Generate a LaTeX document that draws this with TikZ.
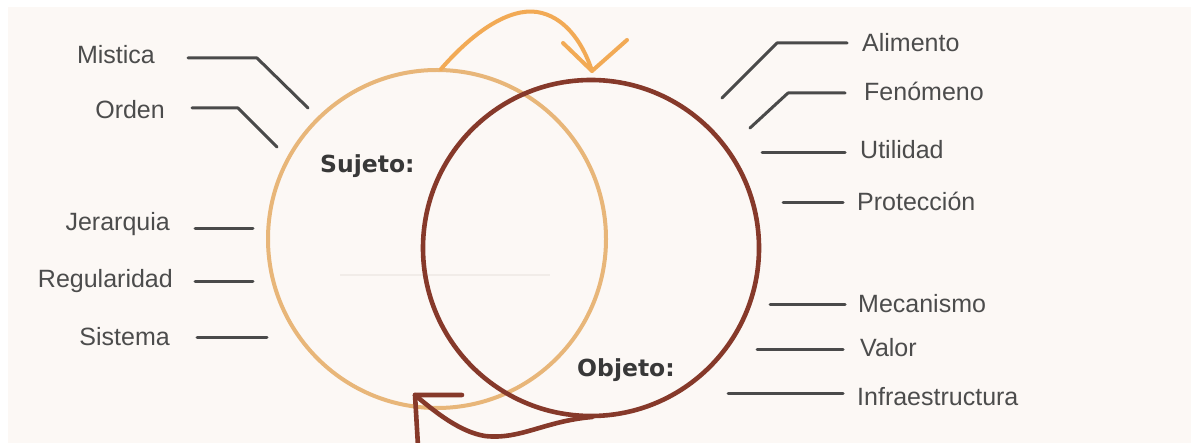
\documentclass[tikz,border=0pt]{standalone}
\usepackage{fontspec}
\setmainfont{Liberation Sans}
\newfontfamily\boldlab{DejaVu Sans}
\definecolor{bgc}{HTML}{FCF8F5}
\definecolor{orc}{HTML}{E8B679}
\definecolor{ora}{HTML}{F2AA55}
\definecolor{brc}{HTML}{86392A}
\definecolor{leadc}{HTML}{4A4A4A}
\definecolor{txtc}{HTML}{4C4C4C}
\definecolor{faint}{HTML}{F1ECE8}
\begin{document}
\begin{tikzpicture}[x=1pt,y=-1pt,
  lab/.style={inner sep=0pt,text=txtc,font=\fontsize{25}{29}\selectfont},
  blab/.style={inner sep=0pt,text=black!78,font=\boldlab\bfseries\fontsize{23.5}{27}\selectfont},
  lead/.style={draw=leadc,line width=3pt,line cap=round,line join=round},
  ringo/.style={draw=orc,line width=4pt},
  ringb/.style={draw=brc,line width=4.6pt},
  arro/.style={draw=ora,line width=4pt,line cap=round,line join=round},
  arrb/.style={draw=brc,line width=4.6pt,line cap=round,line join=round}]
\useasboundingbox (0,0) rectangle (1191,443);
\fill[white] (0,0) rectangle (1191,443);
\fill[bgc] (8,7) rectangle (1191,443);
\draw[faint,line width=2pt] (340,275) -- (550,275);

% circles
\node[circle,ringo,minimum size=338pt,inner sep=0pt] (suj) at (437,239) {};
\node[circle,ringb,minimum size=336pt,inner sep=0pt] (obj) at (591,248) {};

% orange arrow
\coordinate (oa0) at (441,69);
\coordinate (oat) at (592,71);
\coordinate (oal) at (563,43);
\coordinate (oar) at (627,40);
\draw[arro] (oa0) .. controls (475,30) and (510,8) .. (537,12)
  .. controls (563,16) and (582,40) .. (oat);
\draw[arro] (oal) -- (oat) -- (oar);

% brown tail arrow
\coordinate (ba0) at (592,417);
\coordinate (bat) at (415,395);
\coordinate (bah) at (462,395);
\coordinate (bav) at (418,446);
\draw[arrb] (ba0) .. controls (545,421) and (520,440) .. (485,436)
  .. controls (460,432) and (435,412) .. (bat);
\draw[arrb] (bah) -- (bat) -- (bav);

% bold labels
\node[blab,anchor=base west] (sujl) at (320,173) {Sujeto:};
\node[blab,anchor=base west] (objl) at (577,377) {Objeto:};

% left labels
\node[lab,anchor=base east] (mis) at (155,64) {Mistica};
\node[lab,anchor=base east] (ord) at (165,119) {Orden};
\node[lab,anchor=base east] (jer) at (170,231) {Jerarquia};
\node[lab,anchor=base east] (reg) at (173,288) {Regularidad};
\node[lab,anchor=base east] (sis) at (170,345) {Sistema};

\coordinate (mis1) at (188,58); \coordinate (mis2) at (257,58); \coordinate (mis3) at (308,108);
\coordinate (ord1) at (192,108); \coordinate (ord2) at (238,108); \coordinate (ord3) at (277,147);
\coordinate (jer1) at (195,229); \coordinate (jer2) at (253,229);
\coordinate (reg1) at (195,282); \coordinate (reg2) at (253,282);
\coordinate (sis1) at (197,338); \coordinate (sis2) at (267,338);
\draw[lead] (mis1) -- (mis2) -- (mis3);
\draw[lead] (ord1) -- (ord2) -- (ord3);
\draw[lead] (jer1) -- (jer2);
\draw[lead] (reg1) -- (reg2);
\draw[lead] (sis1) -- (sis2);

% right labels
\node[lab,anchor=base west] (ali) at (862,52) {Alimento};
\node[lab,anchor=base west] (fen) at (864,101) {Fenómeno};
\node[lab,anchor=base west] (uti) at (860,159) {Utilidad};
\node[lab,anchor=base west] (pro) at (857,211) {Protección};
\node[lab,anchor=base west] (mec) at (858,313) {Mecanismo};
\node[lab,anchor=base west] (val) at (860,357) {Valor};
\node[lab,anchor=base west] (inf) at (857,405) {Infraestructura};

\coordinate (ali1) at (722,98); \coordinate (ali2) at (777,43); \coordinate (ali3) at (847,43);
\coordinate (fen1) at (750,128); \coordinate (fen2) at (788,93); \coordinate (fen3) at (845,93);
\coordinate (uti1) at (762,153); \coordinate (uti2) at (845,153);
\coordinate (pro1) at (783,203); \coordinate (pro2) at (843,203);
\coordinate (mec1) at (770,305); \coordinate (mec2) at (845,305);
\coordinate (val1) at (757,350); \coordinate (val2) at (843,350);
\coordinate (inf1) at (728,393); \coordinate (inf2) at (843,393);
\draw[lead] (ali1) -- (ali2) -- (ali3);
\draw[lead] (fen1) -- (fen2) -- (fen3);
\draw[lead] (uti1) -- (uti2);
\draw[lead] (pro1) -- (pro2);
\draw[lead] (mec1) -- (mec2);
\draw[lead] (val1) -- (val2);
\draw[lead] (inf1) -- (inf2);
\end{tikzpicture}
\end{document}
